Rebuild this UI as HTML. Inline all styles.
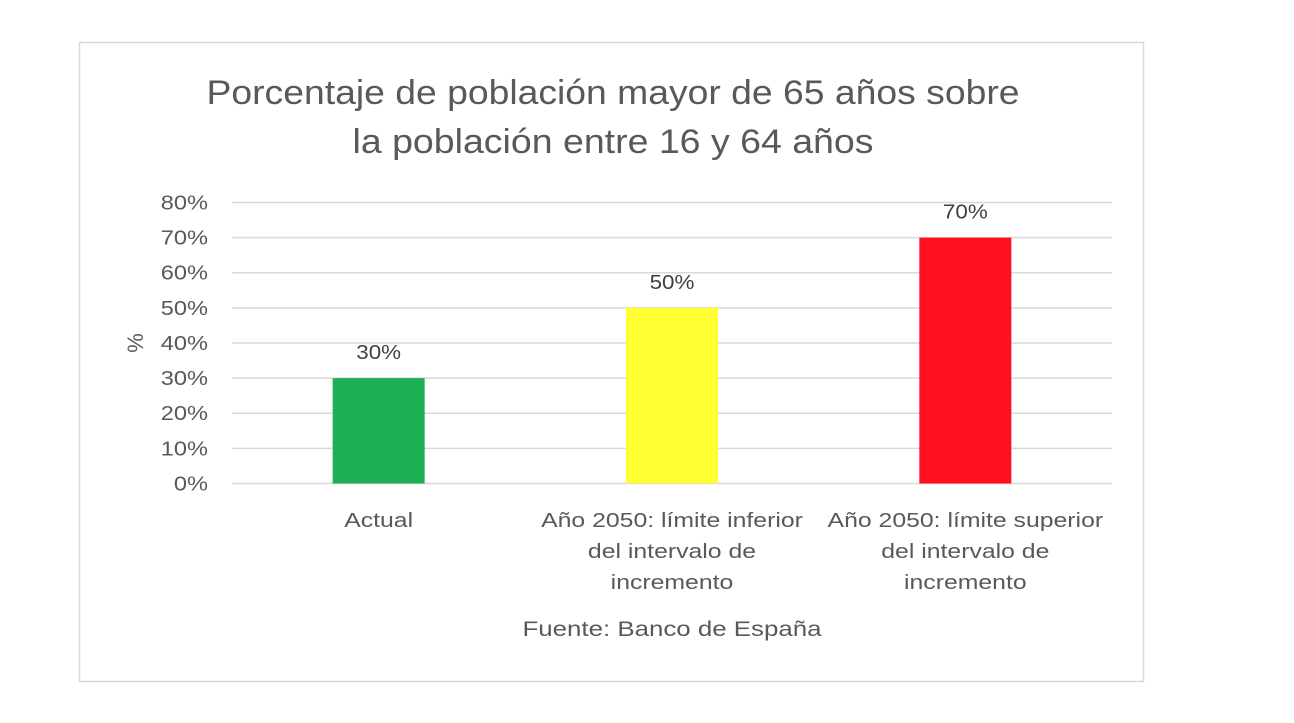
<!DOCTYPE html>
<html><head><meta charset="utf-8"><style>
body{margin:0;background:#fff;width:1294px;height:718px;overflow:hidden;font-family:"Liberation Sans","DejaVu Sans",sans-serif}
</style></head><body>
<svg width="1294" height="718" xmlns="http://www.w3.org/2000/svg">
<rect x="79.5" y="42.5" width="1064" height="639" fill="#fff" stroke="#d9d9d9" stroke-width="1.5"/>
<g fill="#595959" font-size="34" text-anchor="middle">
<text x="613" y="104" textLength="813" lengthAdjust="spacingAndGlyphs">Porcentaje de población mayor de 65 años sobre</text>
<text x="613" y="153" textLength="521" lengthAdjust="spacingAndGlyphs">la población entre 16 y 64 años</text>
</g>
<text transform="translate(143,343) rotate(-90)" text-anchor="middle" font-size="22" fill="#595959">%</text>
<g id="grid"></g><g id="ticks"></g><g id="bars"></g><g id="labels"></g><g id="cats"></g>
<text x="672" y="636" text-anchor="middle" font-size="21" fill="#595959" textLength="299" lengthAdjust="spacingAndGlyphs">Fuente: Banco de España</text>
</svg>
<script>
const categories=[["Actual"],["Año 2050: límite inferior","del intervalo de","incremento"],["Año 2050: límite superior","del intervalo de","incremento"]];
const values=[30,50,70];
const colors=["#1caf54","#ffff33","#ff0f1f"];
const tickValues=[0,10,20,30,40,50,60,70,80];
const NS="http://www.w3.org/2000/svg";
const x0=232,x1=1112,y0=483.5,y1=202.5,ymax=80;
const y=v=>y0-(v/ymax)*(y0-y1);
const band=(x1-x0)/categories.length;
const cx=i=>x0+band*(i+0.5);
function mk(t,a,p,txt){const e=document.createElementNS(NS,t);for(const k in a)e.setAttribute(k,a[k]);if(txt!==undefined)e.textContent=txt;document.getElementById(p).appendChild(e);return e;}
const S=1.24;
tickValues.forEach(v=>{
const g=mk('line',{x1:x0,x2:x1,y1:y(v),y2:y(v),stroke:'#d9d9d9','stroke-width':1.5},'grid');


const t=mk('text',{x:208,y:y(v)+7,'text-anchor':'end','font-size':20,fill:'#595959',transform:`translate(208,0) scale(1.18,1) translate(-208,0)`},'ticks',v+'%');


});
const bw=92;
values.forEach((v,i)=>{
const b=mk('rect',{x:cx(i)-bw/2,y:y(v),width:bw,height:y(0)-y(v),fill:colors[i]},'bars');


const l=mk('text',{x:cx(i),y:y(v)-19,'text-anchor':'middle','font-size':20,fill:'#404040',transform:`translate(${cx(i)},0) scale(1.12,1) translate(${-cx(i)},0)`},'labels',v+'%');


categories[i].forEach((line,j)=>{
const c=mk('text',{x:cx(i),y:527+j*31,'text-anchor':'middle','font-size':20,fill:'#595959',transform:`translate(${cx(i)},0) scale(${S},1) translate(${-cx(i)},0)`},'cats',line);


});
});
</script>
</body></html>
